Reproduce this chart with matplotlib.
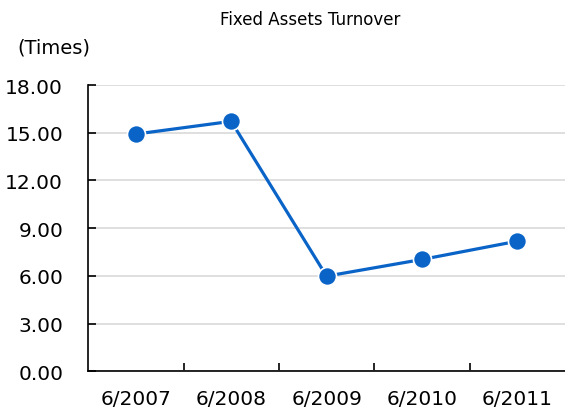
import matplotlib.pyplot as plt
from matplotlib.ticker import FixedLocator

periods = ["6/2007", "6/2008", "6/2009", "6/2010", "6/2011"]
turnover = [14.92, 15.72, 5.98, 7.03, 8.18]
y_ticks = [0, 3, 6, 9, 12, 15, 18]

fig = plt.figure(figsize=(5.65, 4.14), dpi=100)
ax = fig.add_axes([0.156, 0.101, 0.844, 0.691])

x = list(range(len(periods)))
ax.plot(x, turnover, color="#0a64c8", linewidth=2.3, marker="o",
        markersize=13, markerfacecolor="#0a64c8", markeredgecolor="white",
        markeredgewidth=1.2, zorder=3)

ax.set_xlim(-0.5, len(periods) - 0.5)
ax.set_ylim(0, 18)
ax.set_yticks(y_ticks)
ax.set_yticklabels([f"{v:.2f}" for v in y_ticks])
ax.set_xticks(x)
ax.set_xticklabels(periods)
ax.xaxis.set_minor_locator(FixedLocator([i + 0.5 for i in x[:-1]]))

ax.grid(axis="y", color="#d9d9d9", linewidth=1.2)
ax.set_axisbelow(True)
for side in ["top", "right"]:
    ax.spines[side].set_visible(False)
for side in ["left", "bottom"]:
    ax.spines[side].set_linewidth(1.2)

ax.tick_params(axis="x", which="major", length=0, pad=13, labelsize=14.5)
ax.tick_params(axis="x", which="minor", direction="in", length=6, width=1.2)
ax.tick_params(axis="y", direction="in", length=6, width=1.2, pad=18, labelsize=14.5)

fig.text(0.549, 0.952, "Fixed Assets Turnover", ha="center", va="center", fontsize=12)
fig.text(0.03, 0.883, "(Times)", ha="left", va="center", fontsize=14)

plt.savefig("out.png", dpi=100)
